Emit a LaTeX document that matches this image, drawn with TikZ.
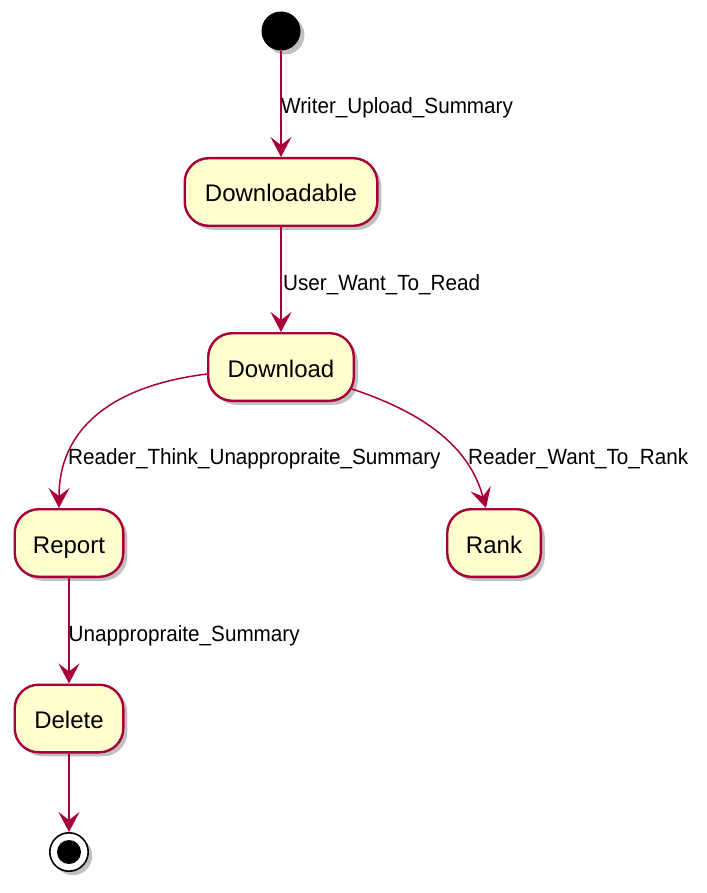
\documentclass[tikz,border=0pt]{standalone}
\usepackage{fontspec}
\setmainfont{Liberation Sans}
\newfontfamily\lblfont{Liberation Sans}[FakeStretch=0.94]
\usetikzlibrary{arrows.meta,shadows}
\definecolor{umlred}{HTML}{A80036}
\definecolor{umlfill}{HTML}{FEFECE}
\tikzset{
	umlshadow/.style={drop shadow={shadow xshift=4pt, shadow yshift=-4pt, fill=black!45, opacity=0.55}},
	stt/.style={draw=umlred, fill=umlfill, line width=2.4pt, rounded corners=24pt, inner sep=0pt,
		minimum height=67.6pt, text height=24pt, text depth=4pt, font=\fontsize{24}{28}\selectfont, umlshadow},
	tr/.style={draw=umlred, line width=1.5pt, -{Stealth[length=20pt, width=21pt, inset=8pt]}},
	lbl/.style={anchor=base west, inner sep=0pt, font=\lblfont\fontsize{22}{26}\selectfont},
}
\begin{document}
\begin{tikzpicture}[x=1pt, y=-1pt, line join=round]
	\useasboundingbox (0,0) rectangle (706,893);
	\node [circle, fill=black, inner sep=0pt, minimum size=39pt, umlshadow] (start) at (281,31) {};
	\node [circle, draw=black, fill=white, line width=1.6pt, inner sep=0pt, minimum size=38.4pt, umlshadow] (stop) at (69,852) {};
	\fill (stop) circle (12pt);
	\foreach \n/\t/\x/\y/\w in {dl/Downloadable/281/192/192.6, dwn/Download/281/367/145.6,
		rep/Report/69/543/108.6, rank/Rank/494/543/93.6, del/Delete/69/718.5/108.6}{
		\node [stt, minimum width=\w pt] (\n) at (\x,\y) {\t};
	}
	\foreach \a/\b in {start/dl, dl/dwn, rep/del, del/stop}{
		\draw [tr] (\a) -- (\b);
	}
	\draw [tr] ([yshift=-7pt]dwn.west) .. controls +(-97,12) and +(0,-78) .. ([xshift=-10pt]rep.north);
	\draw [tr] ([xshift=-3pt, yshift=-22pt]dwn.east) .. controls +(78,26) and +(-16,-58) .. ([xshift=-8pt]rank.north);
	\foreach \x/\y/\t in {281/114/Writer\_Upload\_Summary, 283/290/User\_Want\_To\_Read,
		68/464.5/Reader\_Think\_Unappropraite\_Summary, 468/464.5/Reader\_Want\_To\_Rank,
		68.5/641/Unappropraite\_Summary}{
		\node [lbl] at (\x,\y) {\t};
	}
\end{tikzpicture}
\end{document}
